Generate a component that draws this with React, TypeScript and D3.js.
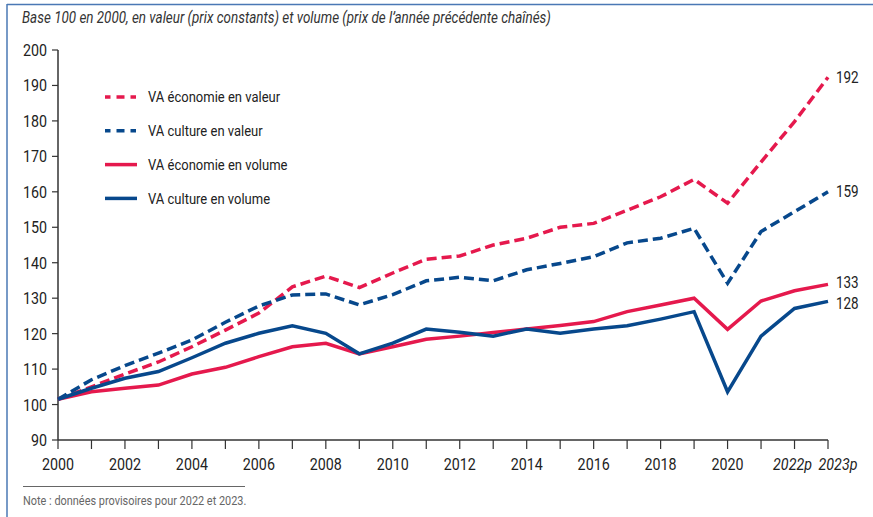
import React from "react";
import * as d3 from "d3";

const years = d3.range(2000, 2024);
const ecoValeur = [101.5, 105, 108.6, 112, 116.3, 121, 125.8, 133.2, 136.2, 133, 137.1, 141, 141.9, 145, 146.9, 150, 151.1, 154.8, 158.6, 163.5, 156.8, 168.4, 179.8, 192.3];
const cultValeur = [101.5, 107, 111, 114.5, 118.2, 123.2, 127.8, 130.9, 131.2, 128.1, 131, 134.9, 135.9, 134.9, 138, 139.8, 141.7, 145.6, 146.9, 149.7, 134.2, 148.8, 154.4, 160];
const ecoVolume = [101.5, 103.6, 104.6, 105.5, 108.6, 110.5, 113.5, 116.3, 117.3, 114.3, 116.3, 118.4, 119.3, 120.3, 121.3, 122.3, 123.4, 126.2, 128.1, 130, 121.2, 129.2, 132.1, 133.9];
const cultVolume = [101.5, 104.6, 107.4, 109.3, 113.2, 117.3, 120.1, 122.2, 120.1, 114.3, 117.3, 121.3, 120.4, 119.3, 121.3, 120.1, 121.3, 122.2, 124.1, 126.2, 103.6, 119.3, 127.1, 129.1];
const endLabels = ["192", "159", "133", "128"];
const yTicks = d3.range(90, 201, 10);
const xLabels: Record<number, string> = {
  2000: "2000", 2002: "2002", 2004: "2004", 2006: "2006", 2008: "2008", 2010: "2010",
  2012: "2012", 2014: "2014", 2016: "2016", 2018: "2018", 2020: "2020", 2022: "2022p", 2023: "2023p",
};

const RED = "#e5194d";
const BLUE = "#07488c";
const FONT = "Roboto, 'Noto Sans', sans-serif";
const SX = 0.84; // horizontal squeeze to mimic a condensed face

const series = [
  { name: "VA économie en valeur", values: ecoValeur, color: RED, dashed: true, label: endLabels[0], dy: 0 },
  { name: "VA culture en valeur", values: cultValeur, color: BLUE, dashed: true, label: endLabels[1], dy: 0 },
  { name: "VA économie en volume", values: ecoVolume, color: RED, dashed: false, label: endLabels[2], dy: -2 },
  { name: "VA culture en volume", values: cultVolume, color: BLUE, dashed: false, label: endLabels[3], dy: 2 },
];

function T({ x, y, children, anchor = "start", size = 15, fill = "#222", italic = false, dy }: any) {
  return (
    <text transform={`translate(${x},${y}) scale(${SX},1)`} textAnchor={anchor} fontSize={size}
      fill={fill} fontStyle={italic ? "italic" : "normal"} dy={dy}>
      {children}
    </text>
  );
}

export default function App() {
  const width = 873;
  const height = 517;
  const x = d3.scaleLinear().domain([2000, 2023]).range([58, 828]);
  const y = d3.scaleLinear().domain([90, 200]).range([440, 50]);
  const line = d3.line<number>().x((d, i) => x(years[i])).y((d) => y(d));

  return (
    <svg width={width} height={height} style={{ position: "absolute", left: 0, top: 0, background: "#fff" }} fontFamily={FONT}>
      {/* frame */}
      <line x1={7} x2={width} y1={4.5} y2={4.5} stroke="#4a78b5" strokeWidth={1.5} />
      <line x1={7} x2={7} y1={4} y2={height} stroke="#4a78b5" strokeWidth={1.5} />

      <T x={22} y={23} size={16} italic fill="#333">
        Base 100 en 2000, en valeur (prix constants) et volume (prix de l’année précédente chaînés)
      </T>

      {/* y axis */}
      <line x1={x(2000)} x2={x(2000)} y1={y(200)} y2={y(90)} stroke="#333" strokeWidth={1.5} />
      {yTicks.map((t) => (
        <g key={t}>
          <line x1={x(2000) - 6} x2={x(2000)} y1={y(t)} y2={y(t)} stroke="#333" strokeWidth={1.2} />
          <T x={47} y={y(t)} dy="0.35em" anchor="end" size={17}>{t}</T>
        </g>
      ))}

      {/* x axis */}
      <line x1={x(2000)} x2={x(2023)} y1={y(90)} y2={y(90)} stroke="#333" strokeWidth={1.5} />
      {years.map((yr) => (
        <g key={yr}>
          <line x1={x(yr)} x2={x(yr)} y1={y(90)} y2={y(90) + 9} stroke="#333" strokeWidth={1.2} />
          {xLabels[yr] && (
            <T x={x(yr) + (yr === 2023 ? 10 : yr === 2022 ? -2 : 0)} y={470} anchor="middle" size={17} italic={yr >= 2022}>
              {xLabels[yr]}
            </T>
          )}
        </g>
      ))}

      {/* lines */}
      {series.map((s) => (
        <path key={s.name} d={line(s.values) ?? ""} fill="none" stroke={s.color} strokeWidth={3.5}
          strokeDasharray={s.dashed ? "10,5" : undefined} strokeLinejoin="miter" />
      ))}
      {series.map((s) => (
        <T key={s.name + "l"} x={x(2023) + 8} y={y(s.values[s.values.length - 1]) + s.dy} dy="0.35em" size={16}>
          {s.label}
        </T>
      ))}

      {/* legend */}
      {series.map((s, i) => {
        const ly = 97 + i * 33.8;
        return (
          <g key={s.name + "g"}>
            <line x1={105} x2={137} y1={ly} y2={ly} stroke={s.color} strokeWidth={3.5}
              strokeDasharray={s.dashed ? "5.5,6,8,6,5.5" : undefined} />
            <T x={148} y={ly} dy="0.35em" size={15.5}>{s.name}</T>
          </g>
        );
      })}

      {/* note */}
      <line x1={23} x2={245} y1={486.5} y2={486.5} stroke="#666" strokeWidth={1} />
      <T x={23} y={505} size={13} fill="#666">Note : données provisoires pour 2022 et 2023.</T>
    </svg>
  );
}
